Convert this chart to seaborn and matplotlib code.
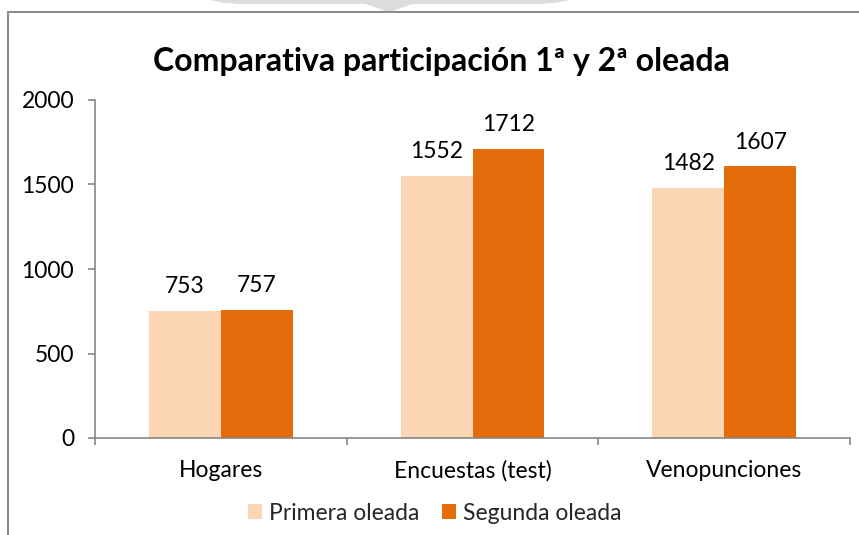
import numpy as np
import pandas as pd
import seaborn as sns
import matplotlib.pyplot as plt
from matplotlib.lines import Line2D
from matplotlib.patches import Polygon

#%% Data
categorias = ['Hogares', 'Encuestas (test)', 'Venopunciones']
oleadas = ['Primera oleada', 'Segunda oleada']
primera = [753, 1552, 1482]
segunda = [757, 1712, 1607]
colores = ['#FCD5B5', '#E46C0A']

df = pd.DataFrame({
    'categoria': categorias * 2,
    'oleada': [oleadas[0]] * 3 + [oleadas[1]] * 3,
    'valor': primera + segunda,
})

#%% Figure
sns.set_theme(style='white')
plt.rcParams['font.family'] = ['Lato', 'DejaVu Sans']

W, H = 859, 535
fs = 16.5
fig = plt.figure(figsize=(W / 100, H / 100), dpi=100)
ax = fig.add_axes([95 / W, (H - 438) / H, (850 - 95) / W, (438 - 100) / H])

sns.barplot(data=df, x='categoria', y='valor', hue='oleada', order=categorias,
            hue_order=oleadas, palette=colores, width=144 / 252, saturation=1,
            edgecolor='none', linewidth=0, ax=ax)

for cont in ax.containers:
    ax.bar_label(cont, fmt='%d', padding=10, fontsize=fs, color='#000000')

ax.set_ylim(0, 2000)
ax.set_xlim(-0.5, 2.5)
ax.set_yticks([0, 500, 1000, 1500, 2000])
ax.set_xlabel('')
ax.set_ylabel('')

gris = '#868686'
for s in ['top', 'right']:
    ax.spines[s].set_visible(False)
for s in ['left', 'bottom']:
    ax.spines[s].set_color(gris)
    ax.spines[s].set_linewidth(1.2)

ax.tick_params(axis='y', direction='out', length=5, width=1.2, color=gris,
               labelsize=fs, labelcolor='#000000', pad=10, left=True)
ax.tick_params(axis='x', which='major', length=0, labelsize=fs,
               labelcolor='#000000', pad=16)
ax.set_xticks([-0.5, 0.5, 1.5, 2.5], minor=True)
ax.tick_params(axis='x', which='minor', direction='out', length=5, width=1.2,
               color=gris, bottom=True)

ax.set_title('Comparativa participación 1ª y 2ª oleada', fontsize=23,
             fontweight='bold', color='#000000', pad=21,
             x=(441 - 95) / 755)

ax.legend(loc='center', bbox_to_anchor=((435 - 95) / 755, (438 - 513) / 338), ncol=2,
          frameon=False, fontsize=fs, handlelength=0.6, handleheight=0.6,
          handletextpad=0.3, columnspacing=1.0, borderpad=0)

# chart border (only top and left visible in the crop)
fig.add_artist(Line2D([8 / W, 8 / W], [0, (H - 12) / H], color='#8C8C8C', lw=1.5))
fig.add_artist(Line2D([8 / W, 1], [(H - 12) / H, (H - 12) / H], color='#8C8C8C', lw=1.5))

# faint watermark at the top
arco = [(210, 0), (222, 2.5), (240, 4), (365, 4), (389, 12), (413, 4),
        (540, 4), (558, 2.5), (570, 0)]
fig.add_artist(Polygon([(x / W, (H - y) / H) for x, y in arco] + [(570 / W, 1), (210 / W, 1)],
                       closed=True, facecolor='#DCDCDC', edgecolor='none'))

fig.savefig('out.png', dpi=100)
